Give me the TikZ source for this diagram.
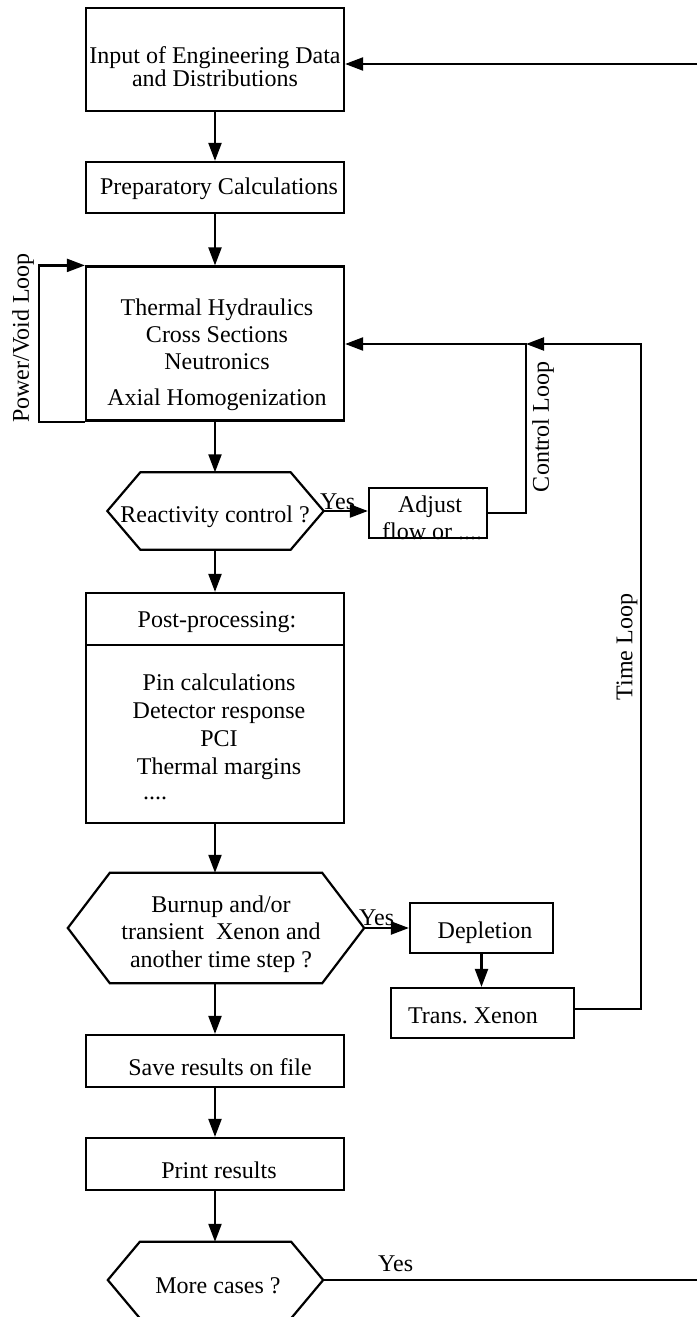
\documentclass[tikz,border=0pt]{standalone}
\usepackage{fontspec}
\setmainfont{Liberation Serif}
\usetikzlibrary{arrows.meta}
\newcommand\hexdraw[2]{\draw[ln, line join=miter] (#1.west) -- ([xshift=#2]#1.north west) -- ([xshift=-#2]#1.north east) -- (#1.east) -- ([xshift=-#2]#1.south east) -- ([xshift=#2]#1.south west) -- cycle;}
\begin{document}
\begin{tikzpicture}[x=1pt,y=-1pt,
  lab/.style={font=\fontsize{24}{27}\selectfont, inner sep=0pt, align=center},
  box/.style={draw, line width=2.2pt, inner sep=0pt},
  hexbox/.style={inner sep=0pt},
  ln/.style={line width=2.2pt},
  arr/.style={line width=2.2pt, -{Triangle[length=18pt,width=13pt]}},
]
\useasboundingbox[fill=white] (0,0) rectangle (697,1317);

% main column boxes
\node[box, minimum width=258, minimum height=103] (b1) at (215,59.5) {};
\node[lab, font=\fontsize{24}{23}\selectfont] (t1) at (215,67) {Input of Engineering Data\\and Distributions};

\node[box, minimum width=258, minimum height=51] (b2) at (215,187.5) {};
\node[lab] (t2) at (219,189) {Preparatory Calculations};

\node[box, minimum width=258, minimum height=154] (b3) at (215,343.5) {};
\node[lab] (t3) at (217,355) {Thermal Hydraulics\\Cross Sections\\Neutronics\\[9pt]Axial Homogenization};

\node[hexbox, minimum width=216, minimum height=77] (h1) at (215.5,511) {};
\hexdraw{h1}{33pt}
\node[lab] (th1) at (215,517) {Reactivity control ?};

\node[box, minimum width=118, minimum height=50] (adj) at (428,513) {};
\node[lab] (tadj) at (430,507) {Adjust};
\node[lab, anchor=base west] (tadj2) at (382,539) {flow or ....};

\node[box, minimum width=258, minimum height=52] (ph) at (215,619) {};
\node[lab] (tph) at (217,622) {Post-processing:};
\node[box, minimum width=258, minimum height=178] (pb) at (215,734) {};
\node[lab, font=\fontsize{24}{28}\selectfont] (tpb) at (219,727) {Pin calculations\\Detector response\\PCI\\Thermal margins};
\node[lab, anchor=base west] (tdots) at (143,799) {....};

\node[hexbox, minimum width=296, minimum height=110] (h2) at (216,928) {};
\hexdraw{h2}{42pt}
\node[lab, font=\fontsize{24}{27.5}\selectfont] (th2) at (221,934) {Burnup and/or\\transient~ Xenon and\\another time step ?};

\node[box, minimum width=143, minimum height=50] (dep) at (481.5,928) {};
\node[lab] (tdep) at (485,933) {Depletion};
\node[box, minimum width=183, minimum height=50] (tx) at (482.5,1013) {};
\node[lab] (ttx) at (473,1016) {Trans.\ Xenon};

\node[box, minimum width=258, minimum height=52] (sv) at (215,1061) {};
\node[lab] (tsv) at (220,1067) {Save results on file};
\node[box, minimum width=258, minimum height=52] (pr) at (215,1164) {};
\node[lab] (tpr) at (219,1170) {Print results};

\node[hexbox, minimum width=215, minimum height=76] (h3) at (215.5,1280) {};
\hexdraw{h3}{32pt}
\node[lab] (th3) at (218,1286) {More cases ?};

% loop labels
\node[lab, rotate=90] (pvlab) at (23,338) {Power/Void Loop};
\node[lab, rotate=90] (cllab) at (543,427) {Control Loop};
\node[lab, rotate=90] (tllab) at (627,647) {Time Loop};

% yes labels
\node[lab, anchor=base west] (y1) at (320,509) {Yes};
\node[lab, anchor=base west] (y2) at (359,925) {Yes};
\node[lab, anchor=base west] (y3) at (378,1271) {Yes};

% main flow
\draw[arr] (b1.south) -- (b2.north);
\draw[arr] (b2.south) -- (b3.north);
\draw[arr] (b3.south) -- (b3.south |- h1.north);
\draw[arr] (h1.south -| b3.south) -- (ph.north);
\draw[arr] (pb.south) -- (pb.south |- h2.north);
\draw[arr] (h2.south -| pb.south) -- (sv.north);
\draw[arr] (sv.south) -- (pr.north);
\draw[arr] (pr.south) -- (pr.south |- h3.north);

% branches
\draw[arr] (h1.east) -- (h1.east -| adj.west);
\draw[arr] (h2.east) -- (h2.east -| dep.west);
\draw[arr] (dep.south) -- (dep.south |- tx.north);

% power/void loop
\coordinate (pv) at (39,343);
\draw[arr, line join=miter] (b3.south west) -| (pv) |- (b3.north west);

% control loop
\coordinate (cj) at (526,344);
\draw[arr, line join=miter] (adj.east) -| (cj) -- (cj -| b3.east);

% time loop
\coordinate (tl) at (641,1009);
\draw[arr, line join=miter] ([yshift=4pt]tx.east) -- (tl) |- (cj);

% outer return
\coordinate (re) at (697,64);
\draw[arr] (re) -- (re -| b1.east);
\coordinate (re2) at (697,1280);
\draw[ln] (h3.east) -- (re2);
\end{tikzpicture}
\end{document}
